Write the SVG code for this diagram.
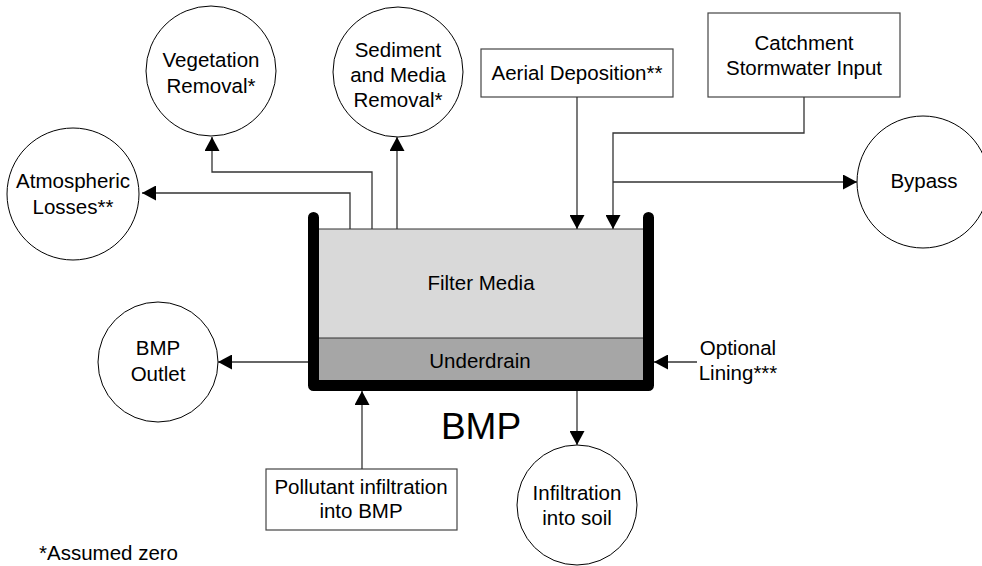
<svg xmlns="http://www.w3.org/2000/svg" width="982" height="566" viewBox="0 0 982 566">
<defs>
<style>
text{font-family:"Liberation Sans",Arial,sans-serif;font-size:20.5px;fill:#000;text-anchor:middle}
.c{fill:#fff;stroke:#000;stroke-width:1}
.b{fill:#fff;stroke:#444;stroke-width:1.2}
.e{fill:none;stroke:#333;stroke-width:1.3}
</style>
<marker id="ah" markerUnits="userSpaceOnUse" markerWidth="14" markerHeight="15" refX="14" refY="7.5" orient="auto" viewBox="0 0 14 15">
<path d="M0,0 L14,7.5 L0,15 z" fill="#000"/>
</marker>
</defs>
<rect width="982" height="566" fill="#fff"/>

<g id="bmp">
<rect x="319" y="229" width="324" height="109" fill="#d9d9d9"/>
<rect x="319" y="338" width="324" height="42" fill="#a6a6a6"/>
<line x1="319" y1="229" x2="643" y2="229" stroke="#333" stroke-width="1.2"/>
<line x1="319" y1="338" x2="643" y2="338" stroke="#333" stroke-width="1.2"/>
<path d="M313.5,217.5 V385.5 H648.5 V217.5" fill="none" stroke="#000" stroke-width="11" stroke-linecap="round" stroke-linejoin="round"/>
<text x="481" y="290">Filter Media</text>
<text x="480" y="368">Underdrain</text>
<text x="481" y="439" style="font-size:37px">BMP</text>
</g>

<g id="vegetation"><circle class="c" cx="211" cy="71" r="65"/><text x="211" y="67">Vegetation</text><text x="211" y="93">Removal*</text></g>
<g id="sediment"><circle class="c" cx="398" cy="72" r="65"/><text x="398" y="57">Sediment</text><text x="398" y="82">and Media</text><text x="398" y="107">Removal*</text></g>
<g id="atmospheric"><circle class="c" cx="73" cy="194" r="66"/><text x="73" y="188">Atmospheric</text><text x="73" y="214">Losses**</text></g>
<g id="aerial"><rect class="b" x="481" y="49" width="192" height="48"/><text x="577" y="80">Aerial Deposition**</text></g>
<g id="catchment"><rect class="b" x="708" y="13" width="192" height="84"/><text x="804" y="50">Catchment</text><text x="804" y="75">Stormwater Input</text></g>
<g id="bypass"><circle class="c" cx="923" cy="182" r="66"/><text x="924" y="188">Bypass</text></g>
<g id="outlet"><circle class="c" cx="158" cy="362" r="60"/><text x="158" y="355">BMP</text><text x="158" y="381">Outlet</text></g>
<g id="lining"><text x="738" y="355">Optional</text><text x="738" y="380">Lining***</text></g>
<g id="pollutant"><rect class="b" x="266" y="469" width="191" height="61"/><text x="361" y="494">Pollutant infiltration</text><text x="361" y="518">into BMP</text></g>
<g id="infiltration"><circle class="c" cx="577" cy="505" r="60"/><text x="577" y="500">Infiltration</text><text x="577" y="525">into soil</text></g>
<g id="note"><text x="39" y="560" style="text-anchor:start">*Assumed zero</text></g>

<g id="connectors">
<path class="e" d="M350,229 V193 H142" marker-end="url(#ah)"/>
<path class="e" d="M372,229 V172 H212 V137" marker-end="url(#ah)"/>
<path class="e" d="M397,229 V137" marker-end="url(#ah)"/>
<path class="e" d="M577,97 V229" marker-end="url(#ah)"/>
<path class="e" d="M804,97 V133 H613 V229" marker-end="url(#ah)"/>
<path class="e" d="M613,182 H857" marker-end="url(#ah)"/>
<path class="e" d="M308,362 H218" marker-end="url(#ah)"/>
<path class="e" d="M362,469 V391" marker-end="url(#ah)"/>
<path class="e" d="M697,362 H654" marker-end="url(#ah)"/>
<path class="e" d="M577,391 V445" marker-end="url(#ah)"/>
</g>
</svg>
